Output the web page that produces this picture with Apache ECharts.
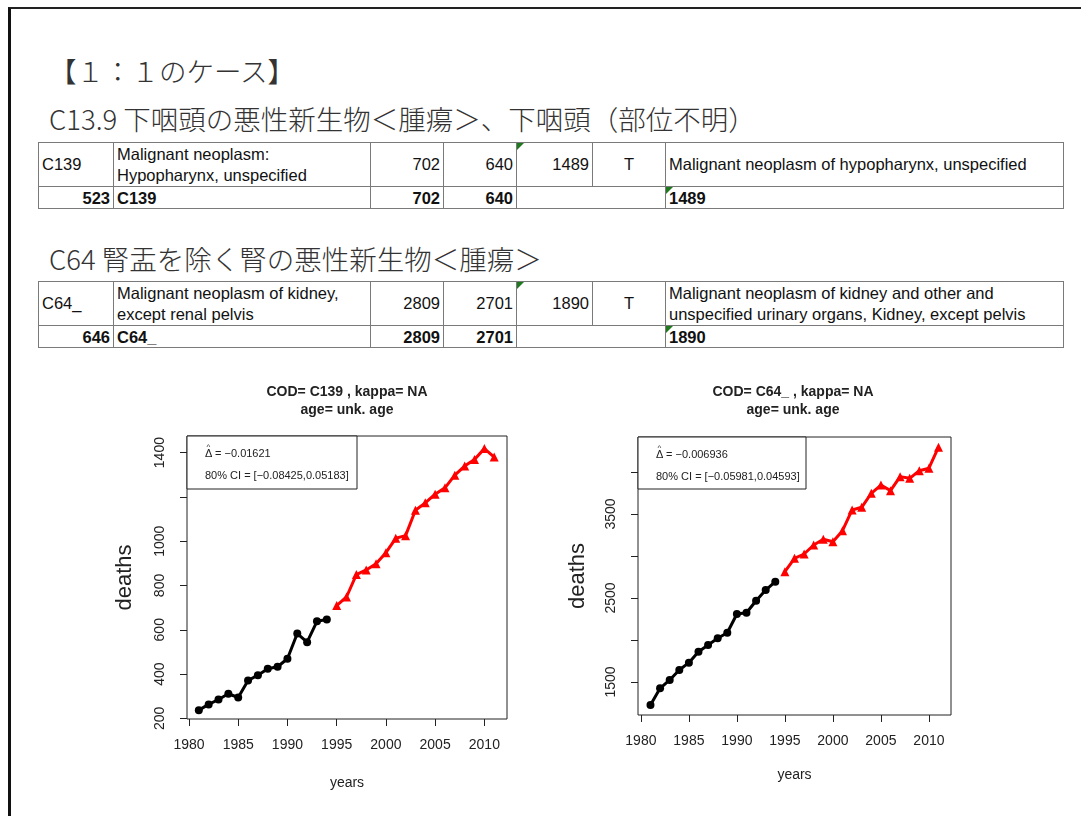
<!DOCTYPE html>
<html>
<head>
<meta charset="utf-8">
<script src="https://cdn.jsdelivr.net/npm/echarts@6/dist/echarts.min.js"></script>
<style>
  html, body { margin: 0; padding: 0; background: #fff; }
  #page { position: relative; width: 1081px; height: 816px; overflow: hidden; background: #fff; }
  #frame { position: absolute; left: 8px; top: 7px; width: 1200px; height: 900px;
           border-left: 3px solid #111; border-top: 2px solid #222; }
  .head { position: absolute; font-family: "Noto Sans CJK JP", "Noto Sans", sans-serif;
          font-weight: 300; color: #333; white-space: nowrap; }
  table.code { position: absolute; left: 38px; width: 1025px; border-collapse: collapse;
               table-layout: fixed; font-family: "Liberation Sans", Arial, sans-serif;
               font-size: 16.5px; color: #111; }
  table.code td { border: 1px solid #7a7a7a; padding: 0 3px; vertical-align: middle;
                  line-height: 21px; position: relative; overflow: hidden; white-space: nowrap; }
  table.code tr.r1 td { height: 43px; }
  table.code tr.r2 td { height: 21px; font-weight: bold; line-height: 20px; }
  td.num { text-align: right; }
  td.mid { text-align: center; }
  .flag::before { content: ""; position: absolute; left: 0; top: 0; width: 0; height: 0;
                  border-top: 7px solid #1f7a1f; border-right: 7px solid transparent; }
  #chart { position: absolute; left: 0; top: 360px; width: 1081px; height: 456px; }
</style>
</head>
<body>
<div id="page">
  <div id="frame"></div>
  <div class="head" style="left:49px; top:54px; font-size:27.5px; line-height:32px;">【１：１のケース】</div>
  <div class="head" style="left:49px; top:102px; font-size:27.5px; line-height:32px;">C13.9 下咽頭の悪性新生物＜腫瘍＞、下咽頭（部位不明）</div>
  <table class="code" style="top:142px;">
    <colgroup>
      <col style="width:75px"><col style="width:257px"><col style="width:73px"><col style="width:73px">
      <col style="width:76px"><col style="width:73px"><col style="width:398px">
    </colgroup>
    <tr class="r1">
      <td>C139</td>
      <td>Malignant neoplasm:<br>Hypopharynx, unspecified</td>
      <td class="num">702</td>
      <td class="num">640</td>
      <td class="num flag">1489</td>
      <td class="mid">T</td>
      <td>Malignant neoplasm of hypopharynx, unspecified</td>
    </tr>
    <tr class="r2">
      <td class="num">523</td>
      <td>C139</td>
      <td class="num">702</td>
      <td class="num">640</td>
      <td colspan="2"></td>
      <td class="flag">1489</td>
    </tr>
  </table>
  <div class="head" style="left:49px; top:242px; font-size:27.5px; line-height:32px;">C64 腎盂を除く腎の悪性新生物＜腫瘍＞</div>
  <table class="code" style="top:281px;">
    <colgroup>
      <col style="width:75px"><col style="width:257px"><col style="width:73px"><col style="width:73px">
      <col style="width:76px"><col style="width:73px"><col style="width:398px">
    </colgroup>
    <tr class="r1">
      <td>C64_</td>
      <td>Malignant neoplasm of kidney,<br>except renal pelvis</td>
      <td class="num">2809</td>
      <td class="num">2701</td>
      <td class="num flag">1890</td>
      <td class="mid">T</td>
      <td>Malignant neoplasm of kidney and other and<br>unspecified urinary organs, Kidney, except pelvis</td>
    </tr>
    <tr class="r2">
      <td class="num">646</td>
      <td>C64_</td>
      <td class="num">2809</td>
      <td class="num">2701</td>
      <td colspan="2"></td>
      <td class="flag">1890</td>
    </tr>
  </table>
  <div id="chart"></div>
</div>
<script>
// Years: observed period and the projected period
const yearsObserved = [1981, 1982, 1983, 1984, 1985, 1986, 1987, 1988, 1989, 1990, 1991, 1992, 1993, 1994];
const yearsProjected = [1995, 1996, 1997, 1998, 1999, 2000, 2001, 2002, 2003, 2004, 2005, 2006, 2007, 2008, 2009, 2010, 2011];

// C139: hypopharynx, unspecified
const c139Observed = [237, 263, 285, 311, 294, 371, 395, 424, 433, 469, 583, 544, 638, 646];
const c139Projected = [709, 748, 849, 870, 898, 948, 1013, 1025, 1140, 1173, 1212, 1241, 1298, 1339, 1369, 1418, 1380];

// C64_: kidney, except renal pelvis
const c64Observed = [1226, 1425, 1524, 1643, 1730, 1861, 1940, 2020, 2087, 2310, 2325, 2468, 2595, 2694];
const c64Projected = [2813, 2972, 3024, 3131, 3199, 3170, 3301, 3548, 3580, 3747, 3845, 3778, 3945, 3925, 4016, 4045, 4295];

// Axis ticks and the labels printed on them
const yearTicks = [1980, 1985, 1990, 1995, 2000, 2005, 2010];
const c139Ticks = [200, 400, 600, 800, 1000, 1200, 1400];
const c139Labels = [200, 400, 600, 800, 1000, 1400];
const c64Ticks = [1500, 2000, 2500, 3000, 3500, 4000];
const c64Labels = [1500, 2500, 3500];

// Panel texts
const c139Title = ['COD= C139 , kappa= NA', 'age= unk. age'];
const c64Title = ['COD= C64_ , kappa= NA', 'age= unk. age'];
const c139Stats = [' = \u22120.01621', '80% CI = [\u22120.08425,0.05183]'];
const c64Stats = [' = \u22120.006936', '80% CI = [\u22120.05981,0.04593]'];

const pair = (xs, ys) => xs.map((x, i) => [x, ys[i]]);

const FONT = '"Liberation Sans", Arial, sans-serif';
const INK = '#222';
const plain = v => String(v);

function xAxisFor(gridIndex, min, max, nameGap) {
  return {
    type: 'value', gridIndex, min, max,
    axisLine: { show: false },
    splitLine: { show: false },
    axisTick: { show: true, length: 7, customValues: yearTicks, lineStyle: { color: INK, width: 1 } },
    axisLabel: { customValues: yearTicks, formatter: plain, margin: 19, fontSize: 14, color: INK, fontFamily: FONT },
    name: 'years', nameLocation: 'middle', nameGap,
    nameTextStyle: { fontSize: 14, color: INK, fontFamily: FONT }
  };
}

function yAxisFor(gridIndex, min, max, ticks, labels, nameGap) {
  return {
    type: 'value', gridIndex, min, max,
    axisLine: { show: false },
    splitLine: { show: false },
    axisTick: { show: true, length: 7, customValues: ticks, lineStyle: { color: INK, width: 1 } },
    axisLabel: { customValues: labels, formatter: plain, rotate: 90, margin: 20, fontSize: 14, color: INK, fontFamily: FONT },
    name: 'deaths', nameLocation: 'middle', nameGap, nameRotate: 90,
    nameTextStyle: { fontSize: 22, color: INK, fontFamily: FONT }
  };
}

function titleFor(cx, lines) {
  return lines.map((t, i) => ({
    type: 'text', x: cx, y: 32 + i * 18,
    style: { text: t, fontSize: 14, fontWeight: 'bold', fill: INK, fontFamily: FONT,
             textAlign: 'center', textVerticalAlign: 'middle' }
  }));
}

// Box with the estimate (Delta with a hat) and its confidence interval
function statsBox(x, y, w, h, lines) {
  const txt = (tx, ty, s, size) => ({
    type: 'text', x: tx, y: ty,
    style: { text: s, fontSize: size, fill: INK, fontFamily: FONT, textVerticalAlign: 'middle' }
  });
  return {
    type: 'group', x, y,
    children: [
      { type: 'rect', shape: { x: 0, y: 0, width: w, height: h },
        style: { fill: '#fff', stroke: INK, lineWidth: 1 } },
      txt(18, 18, '\u0394', 11),
      { type: 'text', x: 21.5, y: 11,
        style: { text: '^', fontSize: 8, fill: INK, fontFamily: FONT, textAlign: 'center', textVerticalAlign: 'middle' } },
      txt(25, 18, lines[0], 11),
      txt(18, 40, lines[1], 11)
    ]
  };
}

function observedSeries(idx, data) {
  return {
    type: 'line', xAxisIndex: idx, yAxisIndex: idx, data,
    symbol: 'circle', symbolSize: 8, showSymbol: true,
    lineStyle: { color: '#000', width: 3 }, itemStyle: { color: '#000' },
    animation: false, z: 3
  };
}

function projectedSeries(idx, data) {
  return {
    type: 'line', xAxisIndex: idx, yAxisIndex: idx, data,
    symbol: 'triangle', symbolSize: 9, showSymbol: true,
    lineStyle: { color: '#ff0000', width: 3 }, itemStyle: { color: '#ff0000' },
    animation: false, z: 3
  };
}

const chart = echarts.init(document.getElementById('chart'), null, { renderer: 'canvas' });
chart.setOption({
  backgroundColor: 'transparent',
  animation: false,
  grid: [
    { left: 187, top: 76, width: 320, height: 283, show: true, borderColor: INK, borderWidth: 1, backgroundColor: 'transparent' },
    { left: 638, top: 77, width: 313, height: 278, show: true, borderColor: INK, borderWidth: 1, backgroundColor: 'transparent' }
  ],
  xAxis: [
    xAxisFor(0, 1979.8, 2012.3, 57),
    xAxisFor(1, 1979.7, 2012.3, 53)
  ],
  yAxis: [
    yAxisFor(0, 197, 1475, c139Ticks, c139Labels, 51),
    yAxisFor(1, 1107, 4417, c64Ticks, c64Labels, 49)
  ],
  series: [
    observedSeries(0, pair(yearsObserved, c139Observed)),
    projectedSeries(0, pair(yearsProjected, c139Projected)),
    observedSeries(1, pair(yearsObserved, c64Observed)),
    projectedSeries(1, pair(yearsProjected, c64Projected))
  ],
  graphic: [
    ...titleFor(347, c139Title),
    ...titleFor(793, c64Title),
    statsBox(187, 76, 170, 53, c139Stats),
    statsBox(638, 77, 168, 52, c64Stats)
  ]
});
</script>
</body>
</html>
